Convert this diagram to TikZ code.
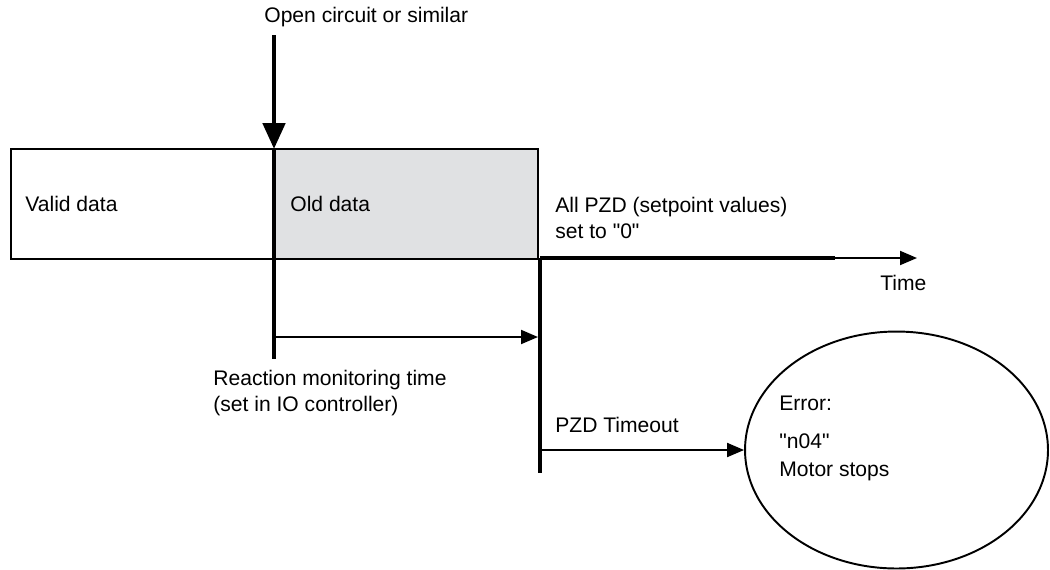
\documentclass[tikz,border=0pt]{standalone}
\usepackage{fontspec}
\setmainfont{Liberation Sans}
\usetikzlibrary{arrows.meta,shapes.geometric,positioning}
\definecolor{olddata}{HTML}{E0E1E3}
\tikzset{
  txt/.style={anchor=west,inner sep=0pt,font=\fontsize{12}{14.5}\selectfont,align=left},
  fat/.style={line width=2.8pt},
  slim/.style={line width=1.1pt},
  bigtip/.style={-{Triangle[length=5.2mm,width=4.4mm]}},
  smalltip/.style={-{Triangle[length=3.4mm,width=2.8mm]}}
}

\begin{document}
\begin{tikzpicture}[x=0.02cm,y=-0.02cm]
\useasboundingbox (0,0) rectangle (1050,569);

\coordinate (src) at (274,35);
\coordinate (cut) at (274,149);
\coordinate (cutend) at (274,359);
\coordinate (monA) at (274,337);
\coordinate (monB) at (538,337);
\coordinate (tmo) at (540,258);
\coordinate (tmoend) at (540,473);
\coordinate (fatend) at (835,258);
\coordinate (timeend) at (917,258);
\coordinate (errA) at (540,450);

% data blocks
\filldraw[fill=olddata, draw=black, slim] (274,149) rectangle (538,259);
\draw[slim] (11,149) rectangle (274,259);

\node[txt] (valid) at (25,204) {Valid data};
\node[txt] (old) at (290,204) {Old data};

% interruption
\node[txt] (open) at (264,17) {Open circuit or similar};
\draw[fat, bigtip] (src) -- (cut);
\draw[fat] (cut) -- (cutend);

% monitoring time
\draw[slim, smalltip] (monA) -- (monB);
\node[txt] (react) at (213,393) {Reaction monitoring time\\(set in IO controller)};

% timeout
\draw[fat] (tmo) -- (tmoend);
\draw[fat] (tmo) -- (fatend);
\draw[slim, smalltip] (fatend) -- (timeend);
\node[txt] (pzd) at (555,218) {All PZD (setpoint values)\\set to \textquotedbl 0\textquotedbl};
\node[txt] (time) at (880,283) {Time};
\node[txt] (timeout) at (555,425) {PZD Timeout};

% error
\node[ellipse, draw, slim, minimum width=6.06cm, minimum height=4.74cm] (err) at (896.5,450) {};
\draw[slim, smalltip] (errA) -- (err.west);
\node[txt] (errtxt) at (779,403) {Error:};
\node[txt] (code) at (779,441) {\textquotedbl n04\textquotedbl};
\node[txt] (stop) at (779,471) {Motor stops};
\end{tikzpicture}
\end{document}
